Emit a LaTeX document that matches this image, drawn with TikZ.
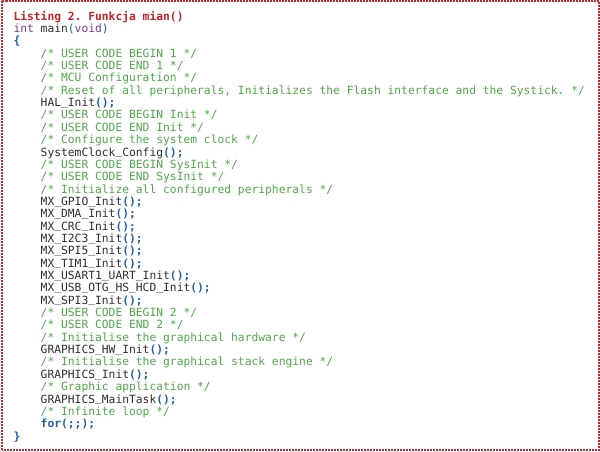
\documentclass[tikz,border=0pt]{standalone}
\usepackage{fontspec}
\setmonofont{DejaVu Sans Mono}
\definecolor{framered}{HTML}{C4262E}
\definecolor{titlered}{HTML}{C4202A}
\definecolor{kwpurple}{HTML}{7B3F8C}
\definecolor{kwblue}{HTML}{1F5FA8}
\definecolor{cmtgreen}{HTML}{4FA847}
\definecolor{codegray}{HTML}{2E2E2E}
\newcommand{\codefont}{\ttfamily\fontsize{11.3}{12.35}\selectfont}
\newcommand{\cmt}[1]{\textcolor{cmtgreen}{#1}}
\newcommand{\callend}{\textcolor{kwblue}{\bfseries ();}}
\newcommand{\us}{\raisebox{1.3pt}{\_}}
\tikzset{codeline/.style={anchor=base west, inner sep=0pt, text=codegray}}
\begin{document}
\begin{tikzpicture}[x=1pt,y=1pt]
                    \useasboundingbox (0,0) rectangle (600,452);
                    {\codefont

                    % Drawing frame
                    \draw [framered, line width=2pt, dash pattern=on 2pt off 1pt] (1.5,1.5) rectangle (598.5,450.5);%

                    % Marking title
                    \draw (13.3,431.80) node (title) [codeline] {\textcolor{titlered}{\bfseries Listing 2. Funkcja mian()}};%

                    % Marking head of main
                    \draw (13.3,419.45) node (head) [codeline] {\textcolor{kwpurple}{int} main\textcolor{kwblue}{(}\textcolor{kwpurple}{void}\textcolor{kwblue}{)}};%
                    \draw (13.3,407.10) node (open) [codeline] {\textcolor{kwblue}{\bfseries\{}};%

                    % Marking user code 1
                    \draw (40.5,394.75) node (c01) [codeline] {\cmt{/* USER CODE BEGIN 1 */}};%
                    \draw (40.5,382.40) node (c02) [codeline] {\cmt{/* USER CODE END 1 */}};%

                    % Marking MCU configuration
                    \draw (40.5,370.05) node (c03) [codeline] {\cmt{/* MCU Configuration */}};%
                    \draw (40.5,357.70) node (c04) [codeline] {\cmt{/* Reset of all peripherals, Initializes the Flash interface and the Systick. */}};%
                    \draw (40.5,345.35) node (c05) [codeline] {HAL\us Init\callend};%

                    % Marking user code Init
                    \draw (40.5,333.00) node (c06) [codeline] {\cmt{/* USER CODE BEGIN Init */}};%
                    \draw (40.5,320.65) node (c07) [codeline] {\cmt{/* USER CODE END Init */}};%

                    % Marking system clock
                    \draw (40.5,308.30) node (c08) [codeline] {\cmt{/* Configure the system clock */}};%
                    \draw (40.5,295.95) node (c09) [codeline] {SystemClock\us Config\callend};%

                    % Marking user code SysInit
                    \draw (40.5,283.60) node (c10) [codeline] {\cmt{/* USER CODE BEGIN SysInit */}};%
                    \draw (40.5,271.25) node (c11) [codeline] {\cmt{/* USER CODE END SysInit */}};%

                    % Marking peripherals
                    \draw (40.5,258.90) node (c12) [codeline] {\cmt{/* Initialize all configured peripherals */}};%
                    \draw (40.5,246.55) node (c13) [codeline] {MX\us GPIO\us Init\callend};%
                    \draw (40.5,234.20) node (c14) [codeline] {MX\us DMA\us Init\callend};%
                    \draw (40.5,221.85) node (c15) [codeline] {MX\us CRC\us Init\callend};%
                    \draw (40.5,209.50) node (c16) [codeline] {MX\us I2C3\us Init\callend};%
                    \draw (40.5,197.15) node (c17) [codeline] {MX\us SPI5\us Init\callend};%
                    \draw (40.5,184.80) node (c18) [codeline] {MX\us TIM1\us Init\callend};%
                    \draw (40.5,172.45) node (c19) [codeline] {MX\us USART1\us UART\us Init\callend};%
                    \draw (40.5,160.10) node (c20) [codeline] {MX\us USB\us OTG\us HS\us HCD\us Init\callend};%
                    \draw (40.5,147.75) node (c21) [codeline] {MX\us SPI3\us Init\callend};%

                    % Marking user code 2
                    \draw (40.5,135.40) node (c22) [codeline] {\cmt{/* USER CODE BEGIN 2 */}};%
                    \draw (40.5,123.05) node (c23) [codeline] {\cmt{/* USER CODE END 2 */}};%

                    % Marking graphics
                    \draw (40.5,110.70) node (c24) [codeline] {\cmt{/* Initialise the graphical hardware */}};%
                    \draw (40.5,98.35) node (c25) [codeline] {GRAPHICS\us HW\us Init\callend};%
                    \draw (40.5,86.00) node (c26) [codeline] {\cmt{/* Initialise the graphical stack engine */}};%
                    \draw (40.5,73.65) node (c27) [codeline] {GRAPHICS\us Init\callend};%
                    \draw (40.5,61.30) node (c28) [codeline] {\cmt{/* Graphic application */}};%
                    \draw (40.5,48.95) node (c29) [codeline] {GRAPHICS\us MainTask\callend};%

                    % Marking loop
                    \draw (40.5,36.60) node (c30) [codeline] {\cmt{/* Infinite loop */}};%
                    \draw (40.5,24.25) node (c31) [codeline] {\textcolor{kwblue}{\bfseries for(;;);}};%
                    \draw (13.3,11.90) node (close) [codeline] {\textcolor{kwblue}{\bfseries\}}};%
                    }
\end{tikzpicture}
\end{document}
